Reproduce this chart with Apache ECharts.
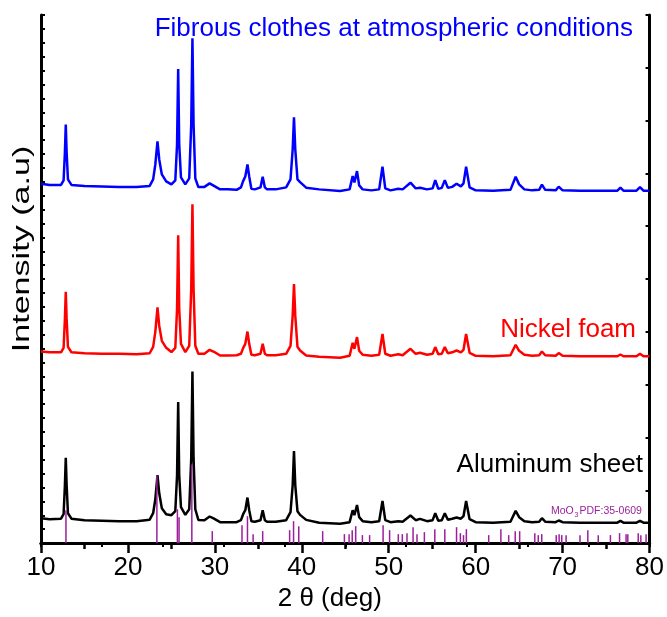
<!DOCTYPE html>
<html>
<head>
<meta charset="utf-8">
<script src="https://cdn.jsdelivr.net/npm/echarts@6/dist/echarts.min.js"></script>
<style>
  html, body { margin: 0; padding: 0; background: #fff; }
  #chart { width: 667px; height: 617px; }
</style>
</head>
<body>
<div id="chart"></div>
<script>
// 2theta positions shared by the three scans
var thetas = [10.0, 11.0, 12.3, 12.6, 12.75, 12.85, 12.95, 13.1, 13.5, 15, 17, 19, 21, 22.5, 22.9, 23.15,
  23.4, 23.6, 23.9, 24.4, 25.0, 25.45, 25.65, 25.78, 25.9, 26.1, 26.6, 27.05, 27.28, 27.42, 27.55, 27.75,
  28.1, 28.8, 29.4, 29.9, 30.6, 31.5, 32.5, 33.0, 33.25, 33.5, 33.75, 33.95, 34.2, 34.6, 35.25, 35.5,
  35.75, 36.0, 37.0, 38.2, 38.7, 38.95, 39.1, 39.25, 39.5, 39.8, 40.5, 42.0, 44.4, 45.5, 45.85, 46.05,
  46.35, 46.6, 47.0, 48.0, 48.9, 49.28, 49.6, 50.2, 51.1, 51.6, 52.5, 53.1, 53.6, 54.4, 55.05, 55.35,
  55.7, 56.1, 56.45, 56.8, 57.3, 57.8, 58.3, 58.6, 58.9, 59.3, 60.0, 62.0, 64.0, 64.6, 65.0, 65.6,
  66.5, 67.3, 67.62, 68.0, 69.2, 69.55, 70.0, 72.0, 74.0, 76.3, 76.65, 77.0, 78.5, 78.9, 79.3, 80.0];

// intensities (offset, arbitrary units)
var aluminum = [25, 24, 24.5, 29, 58, 85.7, 58, 30, 24.5, 23, 22.5, 22, 22, 23.5, 30, 44,
  68.3, 50, 35, 29, 28, 32, 68, 141.7, 68, 36, 28.3, 34, 85, 172.3, 85, 34,
  23.3, 23, 26.7, 24.5, 21, 21, 21, 23, 29, 33, 45.7, 33, 22, 21.5, 23, 33,
  23, 21.5, 21.5, 23, 31, 58, 92.3, 58, 32, 28.3, 23.3, 20.5, 19.5, 21, 33, 28,
  38.3, 26, 22, 21, 22, 42.3, 23, 21, 22, 21.5, 27.7, 23, 24.3, 22, 23, 30,
  22.5, 23, 30, 23.5, 24.5, 25.7, 24.5, 27, 42.3, 24, 21, 20.5, 21.5, 32.3, 26, 22,
  21, 21.5, 25, 21.5, 21, 22.7, 21, 20.5, 20.5, 20.5, 22.3, 20.5, 20.5, 22.3, 20.5, 20.5];

var nickel = [192.3, 191.5, 191.5, 196, 225, 252.3, 225, 197, 191.5, 190.5, 190, 190, 189.5, 190.5, 197, 212,
  236.7, 218, 203, 196, 191.7, 196, 235, 309, 235, 200, 191.7, 198, 255, 340, 255, 198,
  190, 190, 194, 192, 188.3, 188.3, 188.5, 190, 195.7, 200, 212.3, 200, 189, 188.5, 190, 200,
  190, 188.5, 188.5, 190, 198, 228, 260, 228, 197, 193.3, 188.3, 187, 186, 188, 201, 195,
  206.7, 193, 189, 188, 189, 210, 190, 188, 189.5, 188.5, 195, 190, 191, 189, 190, 196.7,
  189.5, 190, 196.7, 190.5, 191.5, 193.3, 191.5, 194, 210, 191, 188, 187.5, 188.5, 199, 193, 189,
  188, 188.5, 192.3, 188.5, 188, 190.7, 188, 187.5, 187.5, 187.5, 189.3, 187.5, 187.5, 190, 187.5, 187.5];

var fibrous = [360.7, 359.5, 359.5, 364, 392, 420, 392, 365, 359.5, 358.5, 358, 357.5, 357.3, 358.5, 365, 380,
  403.3, 385, 370, 363, 360, 364, 400, 475.7, 400, 367, 360, 366, 420, 506.7, 420, 366,
  357.3, 357.5, 361, 358.5, 355, 355, 354.5, 357, 363.3, 368, 380, 368, 355.5, 355, 357, 367.7,
  357, 355, 355, 357, 365, 395, 427.3, 395, 365, 362.3, 356.7, 355, 353.3, 355, 368.3, 362,
  373.3, 359, 355, 354, 355, 377.7, 356, 354, 355.7, 355, 361.7, 356, 356.7, 355, 356, 364.3,
  355.5, 356.5, 364.3, 356.5, 357.5, 360.7, 358, 361, 377.7, 357, 354, 353.5, 354.5, 367.7, 360, 355,
  354, 354.5, 359.7, 354.5, 354, 357.7, 354, 353.7, 353.7, 353.7, 356.7, 353.7, 353.7, 357.3, 353.7, 353.7];

// MoO3 reference card PDF 35-0609
var refPos = [12.87, 23.33, 25.69, 25.88, 27.35, 29.7, 33.12, 33.75, 34.4, 35.5, 38.6, 39.05, 39.65, 42.4,
  44.9, 45.44, 45.8, 46.2, 46.97, 47.8, 49.35, 50.1, 51.1, 51.56, 52.1, 52.8, 53.25, 54.1, 55.3, 56.45,
  57.8, 58.24, 58.6, 58.93, 61.5, 62.9, 63.8, 64.55, 65.06, 66.8, 67.2, 67.6, 69.27, 69.6, 69.9, 70.4,
  72.0, 72.9, 74.1, 75.5, 76.55, 77.3, 77.5, 78.7, 79.0, 79.6];
var refInt = [33, 68, 34, 26, 79, 12, 18, 27, 9, 12, 13, 22, 17, 12,
  9, 9, 13, 17, 8, 8, 18, 13, 9, 9, 10, 16, 9, 11, 14, 14,
  16, 10, 8, 14, 8, 14, 8, 12, 12, 10, 8, 9, 8, 9, 8, 8,
  8, 13, 8, 8, 10, 9, 9, 10, 8, 9];

var FONT = '"Liberation Sans", Arial, sans-serif';
var PURPLE = '#9c1f9c';

var pairs = function (xs, ys) {
  var out = [];
  for (var i = 0; i < xs.length; i++) {
    out.push([xs[i], ys[i]]);
  }
  return out;
};

var scan = function (name, color, ys) {
  return {
    name: name,
    type: 'line',
    data: pairs(thetas, ys),
    showSymbol: false,
    symbol: 'none',
    lineStyle: { color: color, width: 2.5 },
    z: 3
  };
};

var note = function (x, y, text, color, size, align) {
  return {
    type: 'text', x: x, y: y,
    style: {
      text: text, fill: color, font: size + 'px ' + FONT,
      align: align, verticalAlign: 'middle', textAlign: align, textVerticalAlign: 'middle'
    }
  };
};

var chart = echarts.init(document.getElementById('chart'));

chart.setOption({
  animation: false,
  backgroundColor: '#fff',
  grid: { left: 41, right: 17, top: 15, bottom: 72 },
  xAxis: [{
    type: 'value', position: 'bottom', min: 10, max: 80, interval: 10,
    name: '2 θ (deg)', nameLocation: 'middle', nameGap: 42,
    nameTextStyle: { fontSize: 26, color: '#000', fontFamily: FONT, padding: [0, 31, 0, 0] },
    axisLine: { lineStyle: { color: '#000', width: 3 } },
    axisTick: { inside: false, length: 10, lineStyle: { color: '#000', width: 2.5 } },
    minorTick: { show: true, splitNumber: 2, length: 6, lineStyle: { color: '#000', width: 2.5 } },
    axisLabel: { fontSize: 26, color: '#000', fontFamily: FONT, margin: 12 },
    splitLine: { show: false }
  }, {
    // top frame edge
    type: 'value', position: 'top', min: 0, max: 10, interval: 1,
    axisLine: { lineStyle: { color: '#000', width: 3 } },
    axisTick: { inside: true, length: 4, lineStyle: { color: '#000', width: 2 } },
    axisLabel: { show: false },
    splitLine: { show: false }
  }],
  yAxis: [{
    type: 'value', position: 'left', min: 0, max: 530, interval: 530 / 38,
    axisLine: { show: true, lineStyle: { color: '#000', width: 3 } },
    axisTick: { show: true, inside: true, length: 4, lineStyle: { color: '#000', width: 2 } },
    axisLabel: { show: false },
    splitLine: { show: false }
  }, {
    // right frame edge
    type: 'value', position: 'right', min: 0, max: 10, interval: 1,
    axisLine: { show: true, lineStyle: { color: '#000', width: 3 } },
    axisTick: { show: true, inside: true, length: 4, lineStyle: { color: '#000', width: 2 } },
    axisLabel: { show: false },
    splitLine: { show: false }
  }],
  series: [
    scan('Fibrous clothes at atmospheric conditions', '#0000ff', fibrous),
    scan('Nickel foam', '#ff0000', nickel),
    scan('Aluminum sheet', '#000000', aluminum),
    {
      name: 'MoO3 PDF:35-0609',
      type: 'bar',
      data: pairs(refPos, refInt),
      barWidth: 1.5,
      itemStyle: { color: PURPLE },
      z: 4
    }
  ],
  graphic: [
    note(633, 29, 'Fibrous clothes at atmospheric conditions', '#0000ff', 26, 'right'),
    note(636, 330, 'Nickel foam', '#ff0000', 26, 'right'),
    note(643, 465, 'Aluminum sheet', '#000', 26, 'right'),
    note(551, 511, 'MoO', PURPLE, 10.5, 'left'),
    note(574.5, 515, '3', PURPLE, 7, 'left'),
    note(579.5, 511, 'PDF:35-0609', PURPLE, 10.5, 'left'),
    // y axis title, stretched along its length like the original
    { type: 'text', x: 22, y: 249, rotation: Math.PI / 2, scaleX: 1.42, style: { text: 'Intensity (a.u)', fill: '#000', font: '24px ' + FONT, align: 'center', verticalAlign: 'middle', textAlign: 'center', textVerticalAlign: 'middle' } }
  ]
});
</script>
</body>
</html>
